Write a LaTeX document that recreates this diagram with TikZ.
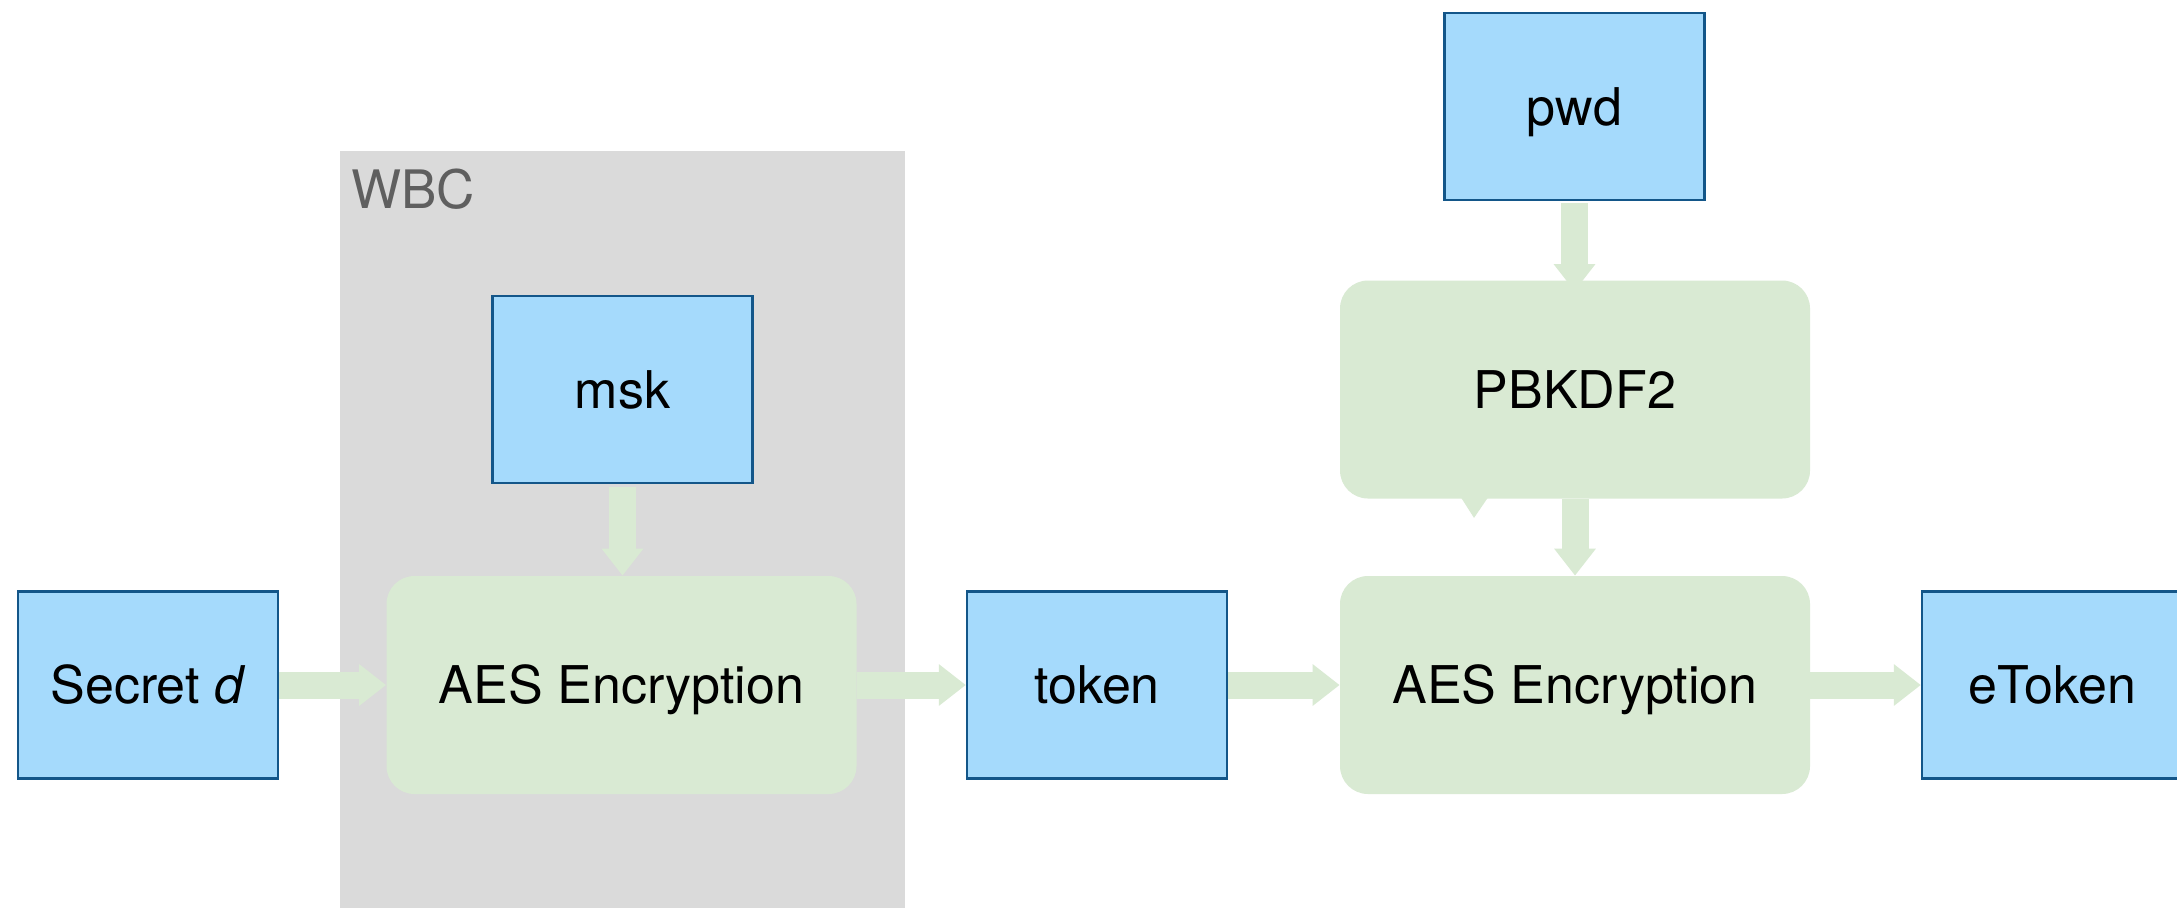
\documentclass[tikz,border=0pt]{standalone}
\usepackage{fontspec}
\setmainfont{TeX Gyre Heros}
\usetikzlibrary{arrows.meta,calc}
\definecolor{boxblue}{RGB}{165,218,252}
\definecolor{boxedge}{RGB}{19,86,137}
\definecolor{procgreen}{RGB}{217,234,211}
\definecolor{wbcgray}{RGB}{218,218,218}
\definecolor{wbctext}{RGB}{95,95,95}
\pgfdeclarelayer{bg}
\pgfdeclarelayer{arr}
\pgfsetlayers{bg,arr,main}
\tikzset{
  boxtext/.style={font=\fontsize{26}{30}\selectfont, text height=18.7pt, text depth=-1.5pt},
  databox/.style={rectangle, draw=boxedge, line width=1.2pt, fill=boxblue,
    minimum width=130pt, minimum height=93.5pt, inner sep=0pt, boxtext},
  procbox/.style={rectangle, rounded corners=14pt, fill=procgreen,
    minimum width=235pt, minimum height=109pt, inner sep=0pt, boxtext},
  fatarrow/.style={draw=procgreen, line width=13.5pt, line cap=butt,
    -{Triangle[width=20pt,length=13.5pt]}},
}
\begin{document}
\begin{tikzpicture}[x=0.5pt,y=-0.5pt]
\useasboundingbox (0,0) rectangle (2177,907);

% background and WBC region
\begin{pgfonlayer}{bg}
\fill[white] (0,0) rectangle (2177,907);
\fill[wbcgray] (340,151) rectangle (905,912);
\end{pgfonlayer}
\node[anchor=base west, inner sep=0pt, text=wbctext, font=\fontsize{26.5}{30}\selectfont] (wbc) at (351,208) {WBC};

% data boxes
\node[databox] (secret) at (148,685) {Secret \textit{d}};
\node[databox] (msk) at (622.5,389.5) {msk};
\node[databox] (pwd) at (1574.5,106.5) {pwd};
\node[databox] (token) at (1097,685) {token};
\node[databox] (etoken) at (2052,685) {eToken};

% process boxes
\node[procbox] (aes1) at (621.5,685) {AES Encryption};
\node[procbox] (pbkdf) at (1575,389.5) {PBKDF2};
\node[procbox] (aes2) at (1575,685) {AES Encryption};
\fill[procgreen] ($(pbkdf.south)+(-115,-3)$) -- ($(pbkdf.south)+(-86,-3)$) -- ($(pbkdf.south)+(-101,19)$) -- cycle;

% connectors
\begin{pgfonlayer}{arr}
\draw[fatarrow] (secret.east) -- (aes1.west);
\draw[fatarrow] ($(msk.south)+(0,3)$) -- (msk.south |- aes1.north);
\draw[fatarrow] (aes1.east) -- (token.west);
\draw[fatarrow] (token.east) -- (aes2.west);
\draw[fatarrow] (aes2.east) -- (etoken.west);
\draw[fatarrow] ($(pwd.south)+(0,2)$) -- ($(pwd.south |- pbkdf.north)+(0,11)$);
\draw[fatarrow] (pbkdf.south) -- (aes2.north);
\end{pgfonlayer}
\end{tikzpicture}
\end{document}
